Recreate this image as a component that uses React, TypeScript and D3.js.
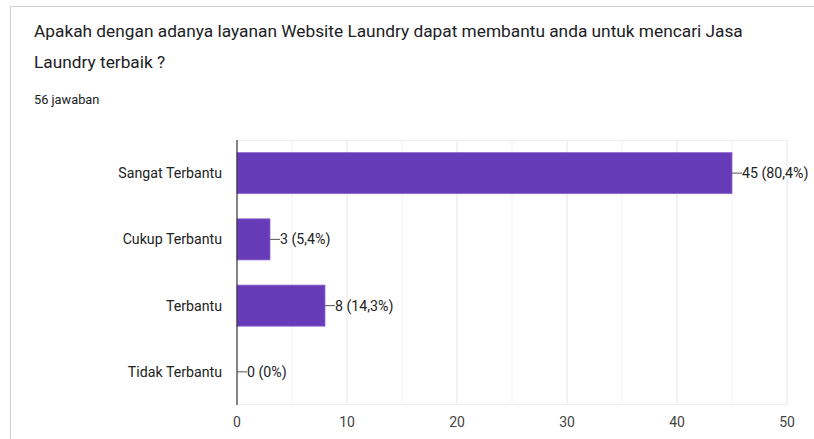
import React from "react";
import * as d3 from "d3";

const categories = ["Sangat Terbantu", "Cukup Terbantu", "Terbantu", "Tidak Terbantu"];
const counts = [45, 3, 8, 0];
const percents = ["80,4%", "5,4%", "14,3%", "0%"];
const xTicks = [0, 10, 20, 30, 40, 50];
const minorTicks = [5, 15, 25, 35, 45];
const titleLines = [
  "Apakah dengan adanya layanan Website Laundry dapat membantu anda untuk mencari Jasa",
  "Laundry terbaik ?",
];
const subtitle = "56 jawaban";

export default function App() {
  const W = 814, H = 439;
  const left = 237, right = 787, top = 140, bottom = 405;
  const x = d3.scaleLinear().domain([0, 50]).range([left, right]);
  const y = d3.scaleBand<string>().domain(categories).range([top, bottom]).paddingInner(0.38).paddingOuter(0.19);
  const font = "Roboto, Arial, sans-serif";
  return (
    <svg width={W} height={H} style={{ position: "absolute", left: 0, top: 0, background: "#fff" }}>
      <rect x={0} y={0} width={W} height={H} fill="#fff" />
      <line x1={10} x2={W} y1={6.5} y2={6.5} stroke="#d0d0d0" />
      <line x1={10.5} x2={10.5} y1={6} y2={H} stroke="#d0d0d0" />
      {titleLines.map((t, i) => (
        <text key={i} x={34} y={37 + i * 31} fontFamily={font} fontSize={17.3} fill="#202124">{t}</text>
      ))}
      <text x={34} y={104} fontFamily={font} fontSize={12.8} fill="#202124">{subtitle}</text>
      {minorTicks.map((t) => (
        <line key={"m" + t} x1={x(t)} x2={x(t)} y1={top} y2={bottom} stroke="#f3f3f3" />
      ))}
      {xTicks.slice(1).map((t) => (
        <line key={"g" + t} x1={x(t)} x2={x(t)} y1={top} y2={bottom} stroke="#e6e6e6" />
      ))}
      <line x1={left} x2={right} y1={top + 0.5} y2={top + 0.5} stroke="#eeeeee" />
      <line x1={left} x2={right} y1={bottom - 0.5} y2={bottom - 0.5} stroke="#eeeeee" />
      {categories.map((c, i) => {
        const yy = y(c)!;
        const bh = y.bandwidth();
        const cy = yy + bh / 2;
        const xe = x(counts[i]);
        return (
          <g key={c}>
            {counts[i] > 0 && (
              <rect x={x(0)} y={yy} width={xe - x(0)} height={bh} fill="#673ab7" stroke="#8e6bd0" strokeWidth={0.8} />
            )}
            <text x={222} y={cy + 5} textAnchor="end" fontFamily={font} fontSize={14.2} fill="#222">{c}</text>
            <line x1={xe} x2={xe + 10} y1={cy} y2={cy} stroke="#555" />
            <text x={xe + 10} y={cy + 5} fontFamily={font} fontSize={14.2} fill="#222">{`${counts[i]} (${percents[i]})`}</text>
          </g>
        );
      })}
      <line x1={left} x2={left} y1={top} y2={bottom} stroke="#333" strokeWidth={1.2} />
      {xTicks.map((t) => (
        <text key={"t" + t} x={x(t)} y={427} textAnchor="middle" fontFamily={font} fontSize={14} fill="#444">{t}</text>
      ))}
    </svg>
  );
}
